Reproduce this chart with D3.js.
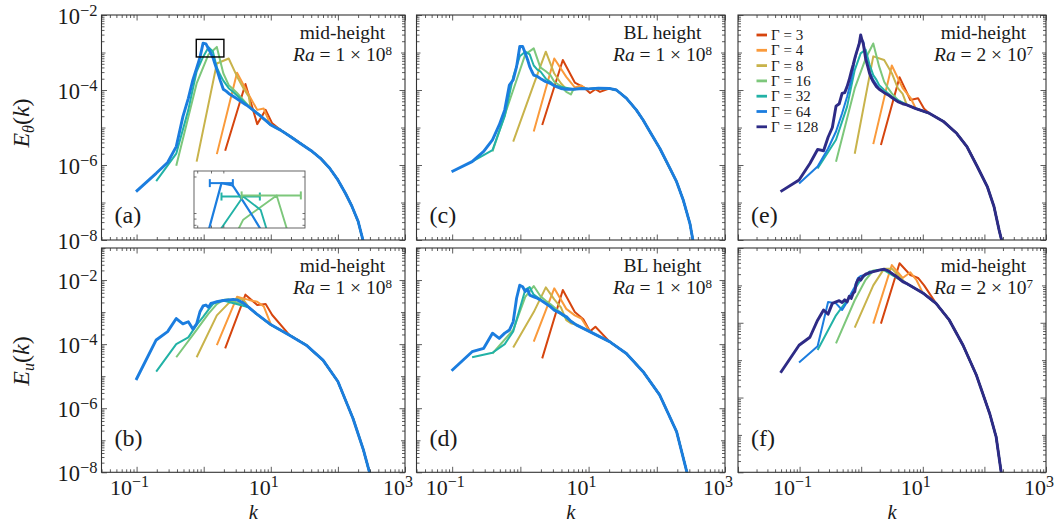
<!DOCTYPE html>
<html><head><meta charset="utf-8">
<script src="https://cdn.jsdelivr.net/npm/d3@7"></script>
<style>
body{margin:0;background:#fff}
svg{display:block}
svg text{font-family:"Liberation Serif","Times New Roman",Times,"DejaVu Serif",serif;fill:#1a1a1a}
</style></head>
<body><svg id="c" width="1063" height="523" font-family="Liberation Serif, Times New Roman, DejaVu Serif, serif"></svg>
<script>
// ---------------- data (k, E) ----------------
const gammas = [3, 4, 8, 16, 32, 64, 128];
const colors = ["#d6450e", "#fa9a3b", "#c8b34b", "#7dc77b", "#22b2a6", "#1b7ddf", "#2e2b86"];

// (a) E_theta, mid-height, Ra=1e8
const a3 = [[2.09,2.4e-6],[4.19,1.45e-4],[6.28,1.23e-5],[8.38,2.95e-5],[10.5,1.29e-5]];
const a4 = [[1.57,1.95e-6],[3.14,2.9e-4],[4.71,7.4e-5],[6.28,2.95e-5],[7.85,3.2e-5],[9.42,1.45e-5]];
const a8 = [[0.785,1.23e-6],[1.57,5.1e-4],[2.36,6.9e-4],[3.14,2.3e-4],[3.93,1.1e-4],[4.71,6.6e-5]];
const a16 = [[0.39,9.5e-7],[0.785,1.5e-4],[1.18,8.9e-4],[1.57,1.41e-3],[1.96,2.8e-4],[2.36,1.35e-4],[2.75,1.05e-4],[3.14,8.3e-5]];
const a32 = [[0.196,3.7e-7],[0.39,2.0e-6],[0.59,2.95e-5],[0.785,3.1e-4],[0.98,7.6e-4],[1.18,1.38e-3],[1.37,1.07e-3],[1.57,4.0e-4],[1.77,2.5e-4],[1.96,1.78e-4],[2.36,1.12e-4],[2.75,8.9e-5]];
const a64 = [[0.098,1.95e-7],[0.196,6.0e-7],[0.29,1.17e-6],[0.39,3.1e-6],[0.49,1.95e-5],[0.59,6.0e-5],[0.69,1.86e-4],[0.785,3.8e-4],[0.88,7.4e-4],[0.98,1.78e-3],[1.08,1.7e-3],[1.18,1.26e-3],[1.28,9.5e-4],[1.37,7.4e-4],[1.47,5.0e-4],[1.57,3.5e-4],[1.77,1.78e-4],[1.96,1.05e-4],[2.16,9.3e-5],[2.36,8.1e-5],[3.05,6.0e-5],[4.3,4.0e-5]];
const aTail = [[5,3.3e-5],[7,2.04e-5],[10,1.17e-5],[14,8.5e-6],[20,5.6e-6],[28,3.7e-6],[40,2.4e-6],[55,1.51e-6],[75,8.3e-7],[100,4.0e-7],[130,1.74e-7],[160,8.3e-8],[200,3.16e-8],[240,8.9e-9],[270,3.2e-9]];

// (c) E_theta, BL height, Ra=1e8
const c3 = [[2.09,1.17e-5],[4.19,6.3e-4],[6.28,1.58e-4],[8.38,1.2e-4],[10.5,8.3e-5],[12.6,1.05e-4],[14.7,8.9e-5]];
const c4 = [[1.57,7.8e-6],[3.14,6.9e-4],[4.71,2.24e-4],[6.28,1.17e-4],[7.85,1.32e-4],[9.42,1.05e-4]];
const c8 = [[0.785,4.2e-6],[1.57,1.41e-4],[2.36,1.05e-3],[3.14,2.75e-4],[3.93,1.51e-4],[4.71,1.05e-4],[5.5,1.05e-4]];
const c16 = [[0.39,2.3e-6],[0.785,1.0e-4],[1.18,8.9e-4],[1.57,1.29e-3],[1.96,4.0e-4],[2.36,3.16e-4],[2.75,2.5e-4],[3.14,1.66e-4],[3.93,1.26e-4],[4.71,8.9e-5],[5.5,7.6e-5]];
const c32 = [[0.196,1.23e-6],[0.39,2.5e-6],[0.59,2.0e-5],[0.785,2.24e-4],[0.98,7.9e-4],[1.18,1.05e-3],[1.37,8.9e-4],[1.57,4.5e-4],[1.77,3.5e-4],[1.96,3.16e-4],[2.36,2.0e-4],[2.75,1.66e-4],[3.14,1.32e-4]];
const c64 = [[0.098,6.6e-7],[0.196,1.23e-6],[0.29,2.3e-6],[0.39,4.7e-6],[0.49,1.17e-5],[0.59,2.95e-5],[0.69,1.35e-4],[0.785,1.86e-4],[0.88,4.2e-4],[0.98,1.45e-3],[1.08,1.45e-3],[1.18,9.5e-4],[1.28,6.3e-4],[1.37,4.2e-4],[1.47,3.16e-4],[1.57,2.5e-4],[1.77,2.3e-4],[1.96,2.04e-4],[2.36,1.66e-4],[2.75,1.51e-4],[3.14,1.29e-4],[3.93,1.1e-4],[4.71,1.05e-4]];
const cTail = [[6,1.05e-4],[8,1.1e-4],[10,1.07e-4],[14,1.12e-4],[20,1.1e-4],[25.6,1.0e-4],[36,6.0e-5],[50,2.95e-5],[63,1.58e-5],[79,7.8e-6],[111,2.75e-6],[156,8.1e-7],[195,3.6e-7],[244,1.17e-7],[306,2.75e-8],[335,1.1e-8],[360,5.0e-9]];

// (e) E_theta, mid-height, Ra=2e7
const e3 = [[2.09,3.4e-6],[4.19,2.2e-4],[6.28,5.4e-5],[8.38,6.0e-5],[10.5,3.16e-5]];
const e4 = [[1.57,3.6e-6],[3.14,4.5e-4],[4.71,1.12e-4],[6.28,6.3e-5]];
const e8 = [[0.785,2.0e-6],[1.57,7.9e-4],[2.36,6.3e-4],[3.14,2.8e-4],[3.93,1.12e-4],[4.71,7.9e-5]];
const e16 = [[0.39,1.23e-6],[0.785,1.1e-4],[1.18,6.9e-4],[1.57,1.74e-3],[1.96,4.2e-4],[2.36,1.66e-4],[2.75,1.1e-4],[3.14,8.1e-5],[3.93,5.4e-5]];
const e32 = [[0.196,8.1e-7],[0.39,4.7e-6],[0.59,3.6e-5],[0.785,3.4e-4],[0.98,9.5e-4],[1.18,1.2e-3],[1.37,4.7e-4],[1.57,2.5e-4],[1.77,1.86e-4],[1.96,1.35e-4],[2.36,1.0e-4],[2.75,8.1e-5],[3.14,6.6e-5]];
const e64 = [[0.098,3.2e-7],[0.196,9.1e-7],[0.29,2.75e-6],[0.39,7.8e-6],[0.49,2.4e-5],[0.59,6.6e-5],[0.69,1.86e-4],[0.785,6.3e-4],[0.88,1.29e-3],[0.98,2.4e-3],[1.08,1.95e-3],[1.18,8.5e-4],[1.28,4.7e-4],[1.37,3.1e-4],[1.57,1.86e-4],[1.96,1.1e-4],[2.36,8.5e-5],[2.75,7.4e-5],[3.14,6.3e-5],[3.93,4.9e-5]];
const e128 = [[0.049,1.95e-7],[0.098,4.0e-7],[0.147,1.1e-6],[0.196,2.6e-6],[0.245,2.4e-6],[0.29,5.5e-6],[0.34,1.0e-5],[0.39,3.7e-5],[0.44,4.3e-5],[0.49,8.1e-5],[0.54,8.5e-5],[0.59,1.23e-4],[0.64,1.9e-4],[0.69,3.1e-4],[0.74,4.7e-4],[0.785,6.9e-4],[0.83,9.5e-4],[0.88,1.29e-3],[0.93,1.74e-3],[0.98,2.95e-3],[1.03,2.14e-3],[1.08,1.74e-3],[1.18,6.9e-4],[1.28,4.2e-4],[1.37,2.75e-4],[1.47,2.04e-4],[1.57,1.66e-4],[1.77,1.23e-4],[1.96,1.05e-4],[2.36,8.5e-5],[2.75,7.4e-5],[3.14,6.3e-5],[3.93,4.9e-5],[4.71,4.3e-5]];
const eTail = [[5.5,4.0e-5],[7.7,3.2e-5],[12.7,2.4e-5],[21.6,1.45e-5],[35.7,6.9e-6],[52,3.1e-6],[76.5,9.1e-7],[112,2.6e-7],[143,7.8e-8],[173,1.86e-8],[190,1.0e-8],[210,3.2e-9]];

// (b) E_u, mid-height, Ra=1e8
const b3 = [[2.09,7.4e-5],[4.19,3.5e-3],[6.28,1.66e-3],[8.38,1.78e-3],[10.5,8.1e-4]];
const b4 = [[1.57,9.3e-5],[3.14,3.0e-3],[4.71,2.4e-3],[6.28,2.1e-3],[7.85,1.51e-3]];
const b8 = [[0.785,3.9e-5],[1.57,7.9e-4],[2.36,1.9e-3],[3.14,2.7e-3],[3.93,2.4e-3]];
const b16 = [[0.39,3.9e-5],[0.785,2.8e-4],[1.18,8.9e-4],[1.57,1.78e-3],[1.96,2.4e-3],[2.36,2.5e-3]];
const b32 = [[0.196,1.38e-5],[0.39,1.0e-4],[0.59,1.62e-4],[0.785,4.0e-4],[0.98,7.1e-4],[1.18,1.2e-3],[1.37,1.78e-3],[1.57,2.1e-3],[1.96,2.3e-3]];
const b64 = [[0.098,7.6e-6],[0.196,1.35e-4],[0.29,2.45e-4],[0.39,6.3e-4],[0.49,4.3e-4],[0.59,5.0e-4],[0.69,2.95e-4],[0.785,4.3e-4],[0.88,1.02e-3],[0.98,1.55e-3],[1.08,1.66e-3],[1.18,1.41e-3],[1.28,1.86e-3],[1.37,1.95e-3],[1.57,2.1e-3],[1.96,2.3e-3],[2.36,2.4e-3],[2.75,2.5e-3],[3.14,2.4e-3],[3.93,1.9e-3]];
const bTail = [[4.7,1.41e-3],[6.07,8.9e-4],[10.1,4.0e-4],[19,1.9e-4],[33.8,9.3e-5],[60,3.16e-5],[100,6.8e-6],[168,4.8e-7],[240,5.0e-8],[294,1.05e-8],[320,4.0e-9]];

// (d) E_u, BL height, Ra=1e8
const d3_ = [[2.09,3.6e-5],[4.19,4.9e-3],[6.28,1.0e-3],[8.38,6.0e-4],[10.5,2.5e-4],[12.6,3.5e-4]];
const d4 = [[1.57,1.2e-4],[3.14,5.5e-3],[4.71,1.26e-3],[6.28,7.9e-4],[7.85,6.3e-4]];
const d8 = [[0.785,7.9e-5],[1.57,1.0e-3],[2.36,5.9e-3],[3.14,2.5e-3],[3.93,1.41e-3],[4.71,5.6e-4],[5.5,4.5e-4]];
const d16 = [[0.39,5.1e-5],[0.785,2.8e-4],[1.18,3.0e-3],[1.57,6.5e-3],[1.96,3.16e-3],[2.36,2.24e-3],[2.75,1.78e-3]];
const d32 = [[0.196,3.9e-5],[0.39,5.4e-5],[0.59,1.0e-4],[0.785,2.5e-4],[0.98,1.26e-3],[1.18,5.0e-3],[1.37,6.0e-3],[1.57,3.5e-3],[1.96,2.5e-3],[2.36,1.86e-3]];
const d64 = [[0.098,1.48e-5],[0.196,5.8e-5],[0.29,7.4e-5],[0.39,2.2e-4],[0.49,1.51e-4],[0.59,2.2e-4],[0.69,2.75e-4],[0.785,5.0e-4],[0.88,2.7e-3],[0.98,6.9e-3],[1.08,6.2e-3],[1.18,4.4e-3],[1.28,5.1e-3],[1.37,3.4e-3],[1.57,3.0e-3],[1.77,2.7e-3],[1.96,2.4e-3],[2.36,1.86e-3],[2.75,1.48e-3],[3.14,1.15e-3],[3.93,9.1e-4],[4.71,7.2e-4]];
const dTail = [[5.5,5.2e-4],[6.6,4.0e-4],[10.4,2.45e-4],[20.3,1.2e-4],[35.8,5.1e-5],[63,1.38e-5],[110,2.6e-6],[195,1.86e-7],[275,1.05e-8],[300,4.0e-9]];

// (f) E_u, mid-height, Ra=2e7
const f3 = [[2.09,9.5e-5],[4.19,3.9e-3],[6.28,1.9e-3],[8.38,1.58e-3],[10.5,1.0e-3]];
const f4 = [[1.57,9.5e-5],[3.14,3.5e-3],[4.71,1.58e-3],[6.28,2.24e-3],[7.85,1.41e-3]];
const f8 = [[0.785,7.4e-5],[1.57,1.0e-3],[2.36,2.8e-3],[3.14,2.8e-3]];
const f16 = [[0.39,2.8e-5],[0.785,4.0e-4],[1.18,1.41e-3],[1.57,2.5e-3],[1.96,2.6e-3],[2.36,2.5e-3]];
const f32 = [[0.196,1.86e-5],[0.39,1.58e-4],[0.59,4.0e-4],[0.785,7.9e-4],[0.98,1.41e-3],[1.18,1.9e-3],[1.37,2.34e-3],[1.57,2.4e-3],[1.96,2.57e-3],[2.36,2.6e-3]];
const f64 = [[0.098,8.7e-6],[0.196,2.34e-5],[0.29,3.6e-4],[0.39,3.3e-4],[0.49,2.2e-4],[0.59,3.6e-4],[0.69,6.2e-4],[0.785,9.1e-4],[0.88,1.55e-3],[0.98,1.78e-3],[1.18,1.9e-3],[1.37,2.1e-3],[1.57,2.34e-3],[1.96,2.57e-3],[2.36,2.7e-3],[2.75,2.45e-3],[3.14,2.1e-3]];
const f128 = [[0.049,4.6e-6],[0.098,2.5e-5],[0.147,4.1e-5],[0.196,1.17e-4],[0.245,2.2e-4],[0.29,1.7e-4],[0.34,3.3e-4],[0.39,3.6e-4],[0.44,3.9e-4],[0.49,3.5e-4],[0.54,4.1e-4],[0.59,3.6e-4],[0.64,5.1e-4],[0.69,4.5e-4],[0.74,6.2e-4],[0.785,6.8e-4],[0.83,1.12e-3],[0.88,1.38e-3],[0.93,1.55e-3],[0.98,1.38e-3],[1.08,1.78e-3],[1.18,2.0e-3],[1.28,2.1e-3],[1.37,2.2e-3],[1.57,2.34e-3],[1.77,2.45e-3],[1.96,2.57e-3],[2.36,2.7e-3],[2.75,2.45e-3],[3.14,2.1e-3],[3.93,1.62e-3],[4.71,1.26e-3]];
const fTail = [[5.3,1.15e-3],[10,6.3e-4],[16.4,3.3e-4],[27,1.17e-4],[45,2.5e-5],[74,4.0e-6],[122,3.7e-7],[155,8.9e-8],[187,1.02e-8],[200,4.0e-9]];

// inset of (a): zoom window and peak error bars
const insetK = [0.775, 2.0];
const insetE = [7.6e-4, 2.24e-3];
const barGamma = [64, 32, 16];
const barLo = [0.887, 0.98, 1.164];
const barHi = [1.08, 1.36, 1.93];
const barE = [1.78e-3, 1.38e-3, 1.41e-3];

// tick labels
const yTickExp = [-2, -4, -6, -8];
const xTickExp = [-1, 1, 3];

// ---------------- layout ----------------
const FONT = "'Liberation Serif','Times New Roman',Times,'DejaVu Serif',serif";
const svg = d3.select("#c");
const colX = [[101.5, 405], [416.5, 725], [738, 1046]];
const rowY = [[15, 240], [248, 472.3]];
const FR = "#333";

const panels = [
  {col:0,row:0,letter:"(a)",pos:"mid-height",ra:["1","8"],xdom:[0.03,1e3],ydom:[1e-8,1e-2],heads:[a3,a4,a8,a16,a32,a64],tail:aTail,thick:64},
  {col:1,row:0,letter:"(c)",pos:"BL height",ra:["1","8"],xdom:[0.03,1e3],ydom:[1e-8,1e-2],heads:[c3,c4,c8,c16,c32,c64],tail:cTail,thick:64},
  {col:2,row:0,letter:"(e)",pos:"mid-height",ra:["2","7"],xdom:[0.01,1e3],ydom:[1e-8,1e-2],heads:[e3,e4,e8,e16,e32,e64,e128],tail:eTail,thick:128},
  {col:0,row:1,letter:"(b)",pos:"mid-height",ra:["1","8"],xdom:[0.03,1e3],ydom:[1e-8,1e-1],heads:[b3,b4,b8,b16,b32,b64],tail:bTail,thick:64},
  {col:1,row:1,letter:"(d)",pos:"BL height",ra:["1","8"],xdom:[0.03,1e3],ydom:[1e-8,1e-1],heads:[d3_,d4,d8,d16,d32,d64],tail:dTail,thick:64},
  {col:2,row:1,letter:"(f)",pos:"mid-height",ra:["2","7"],xdom:[0.01,1e3],ydom:[1e-8,1e-2],heads:[f3,f4,f8,f16,f32,f64,f128],tail:fTail,thick:128}
];

function build(head, tail) {
  const last = head[head.length - 1][0];
  return head.concat(tail.filter(p => p[0] > last * 1.05));
}
function logTicks(dom) {
  const out = [];
  const d0 = Math.floor(Math.log10(dom[0]) + 1e-9), d1 = Math.ceil(Math.log10(dom[1]) - 1e-9);
  for (let d = d0; d <= d1; d++) for (let m = 1; m <= 9; m++) {
    const v = +(m * Math.pow(10, d)).toPrecision(6);
    if (v >= dom[0] * 0.9999 && v <= dom[1] * 1.0001) out.push({v, m, d});
  }
  return out;
}
function txt(sel) { return sel.append("text").attr("font-family", FONT).attr("fill", "#1a1a1a"); }

const defs = svg.append("defs");

panels.forEach((p, pi) => {
  const [x0, x1] = colX[p.col], [y0, y1] = rowY[p.row];
  const xs = d3.scaleLog().domain(p.xdom).range([x0, x1]);
  const ys = d3.scaleLog().domain(p.ydom).range([y1, y0]);
  const g = svg.append("g");
  const cid = "clip" + pi;
  defs.append("clipPath").attr("id", cid).append("rect")
    .attr("x", x0).attr("y", y0).attr("width", x1 - x0).attr("height", y1 - y0);

  // series
  const line = d3.line().x(d => xs(d[0])).y(d => ys(d[1]));
  const lg = g.append("g").attr("clip-path", `url(#${cid})`);
  p.heads.forEach((h, i) => {
    const gam = gammas[i];
    lg.append("path").datum(build(h, p.tail))
      .attr("d", line).attr("fill", "none")
      .attr("stroke", colors[i])
      .attr("stroke-width", gam === p.thick ? 2.9 : 2.0)
      .attr("stroke-linejoin", "round").attr("stroke-linecap", "butt");
  });

  // ticks (inward, all four sides) via d3 axes
  const xt = logTicks(p.xdom), yt = logTicks(p.ydom);
  const xMaj = xt.filter(t => t.m === 1).map(t => t.v), xMin = xt.filter(t => t.m !== 1).map(t => t.v);
  const yMaj = yt.filter(t => t.m === 1 && t.d % 2 === 0).map(t => t.v);
  const yMid = yt.filter(t => t.m === 1 && t.d % 2 !== 0).map(t => t.v);
  const yMin = yt.filter(t => t.m !== 1).map(t => t.v);
  const tickGroup = (axisFn, sc, vals, len, tr) => {
    const a = g.append("g").attr("transform", tr)
      .call(axisFn(sc).tickValues(vals).tickSize(-len).tickFormat(""));
    a.select(".domain").remove();
    a.selectAll("line").attr("stroke", FR).attr("stroke-width", 0.8);
  };
  [[xMaj, 5.5], [xMin, 3]].forEach(([vals, len]) => {
    tickGroup(d3.axisBottom, xs, vals, len, `translate(0,${y1})`);
    tickGroup(d3.axisTop, xs, vals, len, `translate(0,${y0})`);
  });
  [[yMaj, 5.5], [yMid, 4], [yMin, 3]].forEach(([vals, len]) => {
    tickGroup(d3.axisLeft, ys, vals, len, `translate(${x0},0)`);
    tickGroup(d3.axisRight, ys, vals, len, `translate(${x1},0)`);
  });

  // frame
  g.append("rect").attr("x", x0).attr("y", y0).attr("width", x1 - x0).attr("height", y1 - y0)
    .attr("fill", "none").attr("stroke", FR).attr("stroke-width", 1.1);

  // y tick labels (left column only)
  if (p.col === 0) {
    yTickExp.forEach(e => {
      const t = txt(g).attr("x", x0 - 4).attr("y", ys(Math.pow(10, e)) + 9)
        .attr("text-anchor", "end").attr("font-size", 22.5);
      t.append("tspan").text("10");
      t.append("tspan").attr("dy", -8.5).attr("font-size", 16.5).text("\u2212" + Math.abs(e));
    });
  }
  // x tick labels (bottom row only)
  if (p.row === 1) {
    xTickExp.forEach(e => {
      const t = txt(g).attr("x", xs(Math.pow(10, e)) - 7).attr("y", 495)
        .attr("text-anchor", "middle").attr("font-size", 22);
      t.append("tspan").text("10");
      t.append("tspan").attr("dy", -8.5).attr("font-size", 16).text(e < 0 ? "\u2212" + Math.abs(e) : String(e));
    });
    txt(g).attr("x", (x0 + x1) / 2).attr("y", 518.5).attr("text-anchor", "middle")
      .attr("font-size", 20.5).attr("font-style", "italic").text("k");
  }

  // annotation (two centred lines)
  const cx = x1 - 62.5;
  txt(g).attr("x", cx).attr("y", y0 + 23.5).attr("text-anchor", "middle")
    .attr("font-size", 19.5).text(p.pos);
  const r = txt(g).attr("x", cx).attr("y", y0 + 46).attr("text-anchor", "middle").attr("font-size", 19.5);
  r.append("tspan").attr("font-style", "italic").text("Ra");
  r.append("tspan").text(" = " + p.ra[0] + " \u00d7 10");
  r.append("tspan").attr("dy", -6.5).attr("font-size", 13).text(p.ra[1]);

  // panel letter
  txt(g).attr("x", x0 + 13).attr("y", p.row === 0 ? 223 : 446).attr("font-size", 24).text(p.letter);

  // legend in (e)
  if (p.letter === "(e)") {
    gammas.forEach((gm, i) => {
      const yy = 35 + i * 15.3;
      g.append("line").attr("x1", 756.5).attr("x2", 767).attr("y1", yy).attr("y2", yy)
        .attr("stroke", colors[i]).attr("stroke-width", 2.8);
      txt(g).attr("x", 771).attr("y", yy + 5).attr("font-size", 15).text("\u0393 = " + gm);
    });
  }

  // zoom box + inset in (a)
  if (p.letter === "(a)") {
    g.append("rect").attr("x", xs(insetK[0])).attr("y", ys(insetE[1]))
      .attr("width", xs(insetK[1]) - xs(insetK[0])).attr("height", ys(insetE[0]) - ys(insetE[1]))
      .attr("fill", "none").attr("stroke", "#000").attr("stroke-width", 1.4);
    const ix = d3.scaleLog().domain(insetK).range([194, 305]);
    const iy = d3.scaleLog().domain(insetE).range([228, 171]);
    const ig = g.append("g");
    ig.append("rect").attr("x", 194).attr("y", 171).attr("width", 111).attr("height", 57).attr("fill", "#fff");
    defs.append("clipPath").attr("id", "clipIn").append("rect").attr("x", 194).attr("y", 171).attr("width", 111).attr("height", 57);
    const il = d3.line().x(d => ix(d[0])).y(d => iy(d[1]));
    const icl = ig.append("g").attr("clip-path", "url(#clipIn)");
    [[a16, 3], [a32, 4], [a64, 5]].forEach(([h, ci]) => {
      icl.append("path").datum(build(h, aTail)).attr("d", il).attr("fill", "none")
        .attr("stroke", colors[ci]).attr("stroke-width", ci === 5 ? 2.2 : 1.9).attr("stroke-linejoin", "round");
    });
    barGamma.forEach((gm, i) => {
      const col = colors[gammas.indexOf(gm)];
      const yy = iy(barE[i]), xa = ix(barLo[i]), xb = ix(barHi[i]);
      icl.append("line").attr("x1", xa).attr("x2", xb).attr("y1", yy).attr("y2", yy).attr("stroke", col).attr("stroke-width", 2);
      [xa, xb].forEach(xx => icl.append("line").attr("x1", xx).attr("x2", xx).attr("y1", yy - 4).attr("y2", yy + 4).attr("stroke", col).attr("stroke-width", 2));
    });
    const it = logTicks(insetE).filter(t => t.v > insetE[0] && t.v < insetE[1]).map(t => t.v);
    it.forEach(v => {
      ig.append("line").attr("x1", 194).attr("x2", 196.5).attr("y1", iy(v)).attr("y2", iy(v)).attr("stroke", FR).attr("stroke-width", 0.7);
      ig.append("line").attr("x1", 305).attr("x2", 302.5).attr("y1", iy(v)).attr("y2", iy(v)).attr("stroke", FR).attr("stroke-width", 0.7);
    });
    const itx = logTicks(insetK).filter(t => t.v > insetK[0] && t.v < insetK[1]).map(t => t.v);
    itx.forEach(v => {
      ig.append("line").attr("y1", 171).attr("y2", 173.5).attr("x1", ix(v)).attr("x2", ix(v)).attr("stroke", FR).attr("stroke-width", 0.7);
      ig.append("line").attr("y1", 228).attr("y2", 225.5).attr("x1", ix(v)).attr("x2", ix(v)).attr("stroke", FR).attr("stroke-width", 0.7);
    });
    ig.append("rect").attr("x", 194).attr("y", 171).attr("width", 111).attr("height", 57)
      .attr("fill", "none").attr("stroke", "#555").attr("stroke-width", 0.9);
  }
});

// y axis titles
function yTitle(cy, sub) {
  const t = txt(svg).attr("transform", `translate(29,${cy}) rotate(-90)`)
    .attr("text-anchor", "middle").attr("font-size", 24);
  t.append("tspan").attr("font-style", "italic").text("E");
  t.append("tspan").attr("font-style", "italic").attr("font-size", 16).attr("dy", 5).text(sub);
  t.append("tspan").attr("dy", -5).text("(");
  t.append("tspan").attr("font-style", "italic").text("k");
  t.append("tspan").text(")");
}
yTitle(123, "\u03b8");
yTitle(361, "u");
</script></body></html>
